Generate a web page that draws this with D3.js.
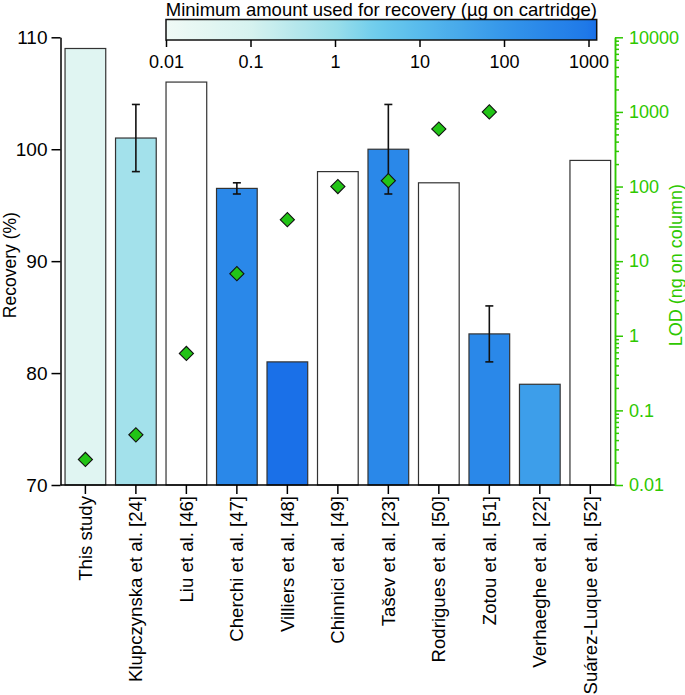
<!DOCTYPE html>
<html>
<head>
<meta charset="utf-8">
<script src="https://cdn.jsdelivr.net/npm/d3@7"></script>
<style>
  html, body { margin: 0; padding: 0; background: #fff; }
  svg { display: block; font-family: "Liberation Sans", Arial, Helvetica, sans-serif; }
</style>
</head>
<body>
<svg id="chart" width="685" height="695"></svg>
<script>
const categories = ["This study","Klupczynska et al. [24]","Liu et al. [46]","Cherchi et al. [47]","Villiers et al. [48]","Chinnici et al. [49]","Tašev et al. [23]","Rodrigues et al. [50]","Zotou et al. [51]","Verhaeghe et al. [22]","Suárez-Luque et al. [52]"];
const recovery = [109, 101, 106, 96.5, 81, 98, 100, 97, 83.5, 79, 99];
const recoveryErr = [null, 3, null, 0.5, null, null, 4, null, 2.5, null, null];
const lod = [0.022, 0.047, 0.58, 6.8, 36, 100, 120, 590, 1000, null, null];
const minAmount = [0.04, 0.7, null, 300, 1250, null, 300, null, 300, 60, null];
const recoveryTicks = [70, 80, 90, 100, 110];
const lodTicks = [0.01, 0.1, 1, 10, 100, 1000, 10000];
const colorbarTicks = [0.01, 0.1, 1, 10, 100, 1000];
const colorStops = [0.01, 0.1, 1, 3, 10, 100, 1000, 1250];
const colorStopColors = ["#f0faf6", "#d6f2ef", "#9adeea", "#6fcdec", "#58bbec", "#3596ea", "#1e78e8", "#1a70e8"];

const svg = d3.select("#chart");
const green = "#2ec800";
const FS = 18;

const plot = { left: 60.5, right: 615, top: 37.3, bottom: 485 };

const x = d3.scaleBand().domain(categories).range([plot.left, plot.right + 0.2])
  .paddingInner(0.194).paddingOuter(0.09);
const y = d3.scaleLinear().domain([70, 110]).range([plot.bottom, plot.top]);
const yL = d3.scaleLog().domain([0.01, 10000]).range([plot.bottom, plot.top]);
const color = d3.scaleLog().domain(colorStops).range(colorStopColors).interpolate(d3.interpolateRgb);

// bars
const data = categories.map((c, i) => ({ c, r: recovery[i], e: recoveryErr[i], lod: lod[i], m: minAmount[i] }));

svg.append("g").selectAll("rect").data(data).join("rect")
  .attr("x", d => x(d.c))
  .attr("width", x.bandwidth())
  .attr("y", d => y(d.r))
  .attr("height", d => y(70) - y(d.r))
  .attr("fill", d => d.m == null ? "#ffffff" : color(d.m))
  .attr("stroke", "#333")
  .attr("stroke-width", 1.2);

// error bars
const eg = svg.append("g").attr("stroke", "#111").attr("stroke-width", 1.6);
data.filter(d => d.e != null).forEach(d => {
  const cx = x(d.c) + x.bandwidth() / 2;
  eg.append("line").attr("x1", cx).attr("x2", cx).attr("y1", y(d.r + d.e)).attr("y2", y(d.r - d.e));
  eg.append("line").attr("x1", cx - 4).attr("x2", cx + 4).attr("y1", y(d.r + d.e)).attr("y2", y(d.r + d.e));
  eg.append("line").attr("x1", cx - 4).attr("x2", cx + 4).attr("y1", y(d.r - d.e)).attr("y2", y(d.r - d.e));
});

// LOD diamonds
svg.append("g").selectAll("path").data(data.filter(d => d.lod != null)).join("path")
  .attr("d", d3.symbol(d3.symbolSquare, 100))
  .attr("transform", d => `translate(${x(d.c) + x.bandwidth() / 2},${yL(d.lod)}) rotate(45)`)
  .attr("fill", "#22c416")
  .attr("stroke", "#111")
  .attr("stroke-width", 1.1);

// left axis
const ga = svg.append("g").attr("transform", `translate(${plot.left},0)`)
  .call(d3.axisLeft(y).tickValues(recoveryTicks).tickSize(9).tickSizeOuter(0).tickPadding(4));
ga.selectAll("text").attr("font-size", 19).attr("fill", "#000").attr("font-family", null);
ga.selectAll("line,path").attr("stroke", "#000").attr("stroke-width", 1.5);

// bottom axis
const gb = svg.append("g").attr("transform", `translate(0,${plot.bottom})`)
  .call(d3.axisBottom(x).tickSize(9).tickSizeOuter(0));
gb.select("path.domain").attr("d", `M${plot.left},0H${plot.right}`);
gb.selectAll("line,path").attr("stroke", "#000").attr("stroke-width", 1.5);
gb.selectAll("text")
  .attr("font-size", 18.6).attr("fill", "#000").attr("font-family", null)
  .attr("transform", "rotate(-90)")
  .attr("x", -11).attr("y", 0).attr("dy", "0.35em")
  .style("text-anchor", "end");

// right axis
const minorTicks = [];
for (let k = -2; k < 4; k++) for (let m = 2; m <= 9; m++) minorTicks.push(m * Math.pow(10, k));
const gm = svg.append("g").attr("transform", `translate(${plot.right},0)`)
  .call(d3.axisRight(yL).tickValues(minorTicks).tickSize(4).tickSizeOuter(0).tickFormat(""));
gm.selectAll("line,path").attr("stroke", green).attr("stroke-width", 1.5);
const gr = svg.append("g").attr("transform", `translate(${plot.right},0)`)
  .call(d3.axisRight(yL).tickValues(lodTicks).tickSize(8).tickSizeOuter(0).tickPadding(6).tickFormat(d3.format("~g")));
gr.selectAll("line,path").attr("stroke", green).attr("stroke-width", 1.5);
gr.selectAll("text").attr("font-size", FS).attr("fill", green).attr("font-family", null);

// axis titles
svg.append("text").attr("transform", `translate(10,${(plot.top + plot.bottom) / 2 + 4}) rotate(-90)`)
  .attr("text-anchor", "middle").attr("dominant-baseline", "central")
  .attr("font-size", 17.5).attr("fill", "#000").text("Recovery (%)");
svg.append("text").attr("transform", `translate(676,${(plot.top + plot.bottom) / 2 + 4}) rotate(-90)`)
  .attr("text-anchor", "middle").attr("dominant-baseline", "central")
  .attr("font-size", FS).attr("fill", green).text("LOD (ng on column)");

// colorbar
const cb = { x0: 166, x1: 596.7, y0: 19.5, y1: 40 };
const cx = d3.scaleLog().domain([0.01, 1250]).range([cb.x0, cb.x1]);
const defs = svg.append("defs");
const grad = defs.append("linearGradient").attr("id", "cbgrad").attr("x1", "0%").attr("x2", "100%");
d3.range(0, 41).forEach(i => {
  const t = i / 40;
  const v = cx.invert(cb.x0 + t * (cb.x1 - cb.x0));
  grad.append("stop").attr("offset", (t * 100) + "%").attr("stop-color", color(v));
});
svg.append("rect").attr("x", cb.x0).attr("y", cb.y0).attr("width", cb.x1 - cb.x0).attr("height", cb.y1 - cb.y0)
  .attr("fill", "url(#cbgrad)").attr("stroke", "#111").attr("stroke-width", 1.5);
const gc = svg.append("g").attr("transform", `translate(0,${cb.y1})`)
  .call(d3.axisBottom(cx).tickValues(colorbarTicks).tickSize(7).tickSizeOuter(0).tickPadding(8).tickFormat(d3.format("~g")));
gc.select("path.domain").remove();
gc.selectAll("line").attr("stroke", "#000").attr("stroke-width", 1.5);
gc.selectAll("text").attr("font-size", FS).attr("fill", "#000").attr("font-family", null);
svg.append("text").attr("x", (cb.x0 + cb.x1) / 2).attr("y", 15.5)
  .attr("text-anchor", "middle").attr("font-size", 18.5).attr("fill", "#000")
  .text("Minimum amount used for recovery (µg on cartridge)");
</script>
</body>
</html>
